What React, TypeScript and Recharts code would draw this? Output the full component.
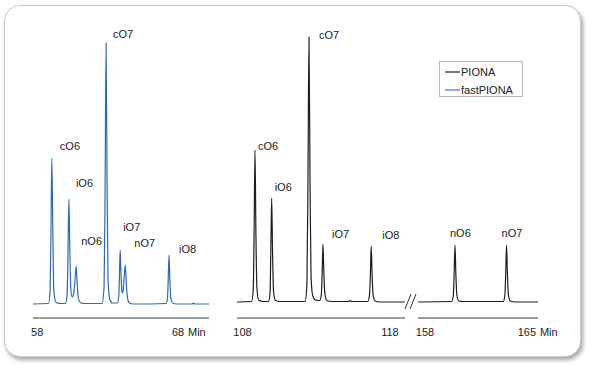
import React from "react";
import { LineChart, Line, XAxis, YAxis, LabelList, Legend } from "recharts";

// fastPIONA trace, 58-68 min window (time in min, detector signal)
const FAST_TRACE: [number, number][] = [
    [57.7, 0], [58.7, 0.5],
    [58.8, 0.5], [58.91, 12], [58.97, 66], [59.04, 146], [59.11, 70], [59.18, 14], [59.32, 2], [59.6, 0.5],
    [60.0, 0.5], [60.12, 9], [60.18, 47], [60.25, 105], [60.32, 50], [60.39, 14], [60.48, 7], [60.58, 10],
    [60.66, 20], [60.77, 38], [60.84, 20], [60.92, 6], [61.05, 1.5], [61.3, 0.5],
    [62.6, 0.5], [62.75, 18], [62.82, 115], [62.89, 261], [62.96, 120], [63.03, 25], [63.15, 5], [63.35, 1],
    [63.7, 1], [63.8, 10], [63.84, 28], [63.89, 54], [63.95, 30], [64.02, 12], [64.08, 11], [64.15, 22],
    [64.26, 39], [64.33, 20], [64.41, 6], [64.55, 1], [64.8, 0],
    [67.15, 0.5], [67.25, 6], [67.3, 23], [67.36, 49], [67.42, 24], [67.49, 6], [67.62, 1], [67.9, 0],
    [69.0, 0], [69.1, 1], [69.2, 0], [70.2, 0],
];
const FAST_PEAKS = ["cO6", "iO6", "nO6", "cO7", "iO7", "nO7", "iO8"];
const FAST_PEAK_TIMES = [59.04, 60.25, 60.77, 62.89, 63.89, 64.26, 67.36];
const FAST_TICKS = [58, 68];

// PIONA trace, 108-118 min window
const PIONA_A_TRACE: [number, number][] = [
    [107.63, 0], [108.6, 0.5],
    [108.62, 0.5], [108.73, 12], [108.79, 70], [108.85, 152], [108.91, 72], [108.98, 14], [109.1, 2], [109.4, 0.5],
    [109.76, 0.5], [109.87, 9], [109.92, 48], [109.98, 104], [110.04, 50], [110.11, 10], [110.24, 1.5], [110.5, 0.5],
    [112.25, 0.5], [112.37, 18], [112.44, 118], [112.51, 265], [112.58, 122], [112.65, 25], [112.77, 6], [112.95, 2],
    [113.25, 1.5], [113.35, 8], [113.4, 27], [113.46, 58], [113.52, 28], [113.59, 8], [113.72, 1.5], [114.0, 0.5],
    [115.2, 0.5], [115.3, 1.5], [115.4, 0.5],
    [116.5, 0.5], [116.61, 7], [116.67, 26], [116.73, 56], [116.79, 27], [116.86, 7], [116.99, 1], [117.3, 0],
    [119.02, 0],
];
const PIONA_A_PEAKS = ["cO6", "iO6", "cO7", "iO7", "iO8"];
const PIONA_A_PEAK_TIMES = [108.85, 109.98, 112.51, 113.46, 116.73];
const PIONA_A_TICKS = [108, 118];

// PIONA trace, 158-165 min window
const PIONA_B_TRACE: [number, number][] = [
    [157.52, 0], [159.8, 0.5],
    [159.84, 0.5], [159.95, 8], [160.0, 27], [160.06, 57], [160.12, 28], [160.19, 7], [160.32, 1], [160.6, 0.5],
    [163.38, 0.5], [163.49, 8], [163.54, 27], [163.6, 57], [163.66, 28], [163.73, 7], [163.86, 1], [164.2, 0],
    [165.76, 0],
];
const PIONA_B_PEAKS = ["nO6", "nO7"];
const PIONA_B_PEAK_TIMES = [160.06, 163.6];
const PIONA_B_TICKS = [158, 165];

const LEGEND_NAMES = ["PIONA", "fastPIONA"];
const LEGEND_COLORS = ["#222222", "#6464e0"];

const BLUE = "#2f6aa8";
const BLACK = "#1e1e1e";
const FONT = "'Liberation Sans', Arial, sans-serif";

// label placement relative to the peak apex
const FAST_LABEL_OFF: Record<string, [number, number]> = {
    cO6: [8, -12], iO6: [7, -16], nO6: [5, -25], cO7: [7, -9], iO7: [3, -23], nO7: [9, -22], iO8: [10, -6],
};
const PIONA_A_LABEL_OFF: Record<string, [number, number]> = {
    cO6: [3, -4], iO6: [3, -11], cO7: [10, -2], iO7: [9, -10], iO8: [11, -11],
};
const PIONA_B_LABEL_OFF: Record<string, [number, number]> = {
    nO6: [-5, -12], nO7: [-5, -12],
};

function buildRows(trace: [number, number][], names: string[], times: number[]) {
    return trace.map(([t, v]) => {
        const i = times.indexOf(t);
        return { t, v, name: i >= 0 ? names[i] : undefined };
    });
}

function peakLabel(offsets: Record<string, [number, number]>) {
    return (props: any) => {
        const { x, y, value } = props;
        if (!value) return null;
        const [dx, dy] = offsets[value] || [4, -8];
        return (
            <text x={x + dx} y={y + dy + 4} fontSize={11} fontFamily={FONT} fill="#222">
                {value}
            </text>
        );
    };
}

function minuteTick(minTick: number | null, minDx: number) {
    return (props: any) => {
        const { x, y, payload } = props;
        return (
            <g>
                <text x={x} y={y} dy={10} textAnchor="middle" fontSize={11} fontFamily={FONT} fill="#222">
                    {payload.value}
                </text>
                {payload.value === minTick && (
                    <text x={x + minDx} y={y} dy={10} fontSize={11} fontFamily={FONT} fill="#222">
                        Min
                    </text>
                )}
            </g>
        );
    };
}

function LegendBox() {
    return (
        <div style={{ width: 84, height: 36, border: "1px solid #b8b8b8", boxSizing: "border-box", background: "#fff", paddingTop: 1 }}>
            {LEGEND_NAMES.map((n, i) => (
                <div key={n} style={{ height: 18, display: "flex", alignItems: "center", fontFamily: FONT, fontSize: 11, color: "#222" }}>
                    <svg width={21} height={18} style={{ flex: "none" }}>
                        <line x1={5} x2={20} y1={9} y2={9} stroke={LEGEND_COLORS[i]} strokeWidth={1.2} />
                    </svg>
                    <span>{n}</span>
                </div>
            ))}
        </div>
    );
}

type PanelProps = {
    left: number;
    width: number;
    marginRight: number;
    rows: any[];
    domain: [number, number];
    yDomain: [number, number];
    ticks: number[];
    color: string;
    offsets: Record<string, [number, number]>;
    minTick: number | null;
    minDx: number;
    legend?: boolean;
};

function Panel(p: PanelProps) {
    return (
        <div style={{ position: "absolute", left: p.left, top: 0 }}>
            <LineChart width={p.width} height={350} data={p.rows} margin={{ top: 30, right: p.marginRight, bottom: 0, left: 12 }}>
                <XAxis
                    dataKey="t"
                    type="number"
                    domain={p.domain}
                    allowDataOverflow
                    ticks={p.ticks}
                    interval={0}
                    height={32}
                    tickLine={false}
                    axisLine={{ stroke: "#7a7a7a", strokeWidth: 1.5 }}
                    tick={minuteTick(p.minTick, p.minDx)}
                />
                <YAxis hide type="number" domain={p.yDomain} allowDataOverflow />
                {p.legend && (
                    <Legend
                        layout="vertical"
                        align="center"
                        verticalAlign="middle"
                        wrapperStyle={{ left: 33, top: 61, width: 84 }}
                        content={() => <LegendBox />}
                    />
                )}
                <Line type="monotone" dataKey="v" stroke={p.color} strokeWidth={1.2} dot={false} isAnimationActive={false}>
                    <LabelList dataKey="name" content={peakLabel(p.offsets)} />
                </Line>
            </LineChart>
        </div>
    );
}

export default function App() {
    const fastRows = buildRows(FAST_TRACE, FAST_PEAKS, FAST_PEAK_TIMES);
    const pionaARows = buildRows(PIONA_A_TRACE, PIONA_A_PEAKS, PIONA_A_PEAK_TIMES);
    const pionaBRows = buildRows(PIONA_B_TRACE, PIONA_B_PEAKS, PIONA_B_PEAK_TIMES);
    return (
        <div style={{ position: "absolute", left: 0, top: 0, width: 593, height: 369, background: "#fff", overflow: "hidden" }}>
            <div
                style={{
                    position: "absolute", left: 4, top: 5, width: 577, height: 352, boxSizing: "border-box",
                    border: "1px solid #c9c9c9", borderRadius: 16, boxShadow: "2px 3px 4px rgba(0,0,0,0.35)", background: "#fff",
                }}
            />
            <Panel left={21} width={200} marginRight={12} rows={fastRows} domain={[57.7, 70.2]} yDomain={[-14, 274]}
                ticks={FAST_TICKS} color={BLUE} offsets={FAST_LABEL_OFF} minTick={68} minDx={10} />
            <Panel left={225} width={192} marginRight={12} rows={pionaARows} domain={[107.63, 119.02]} yDomain={[-16, 272]}
                ticks={PIONA_A_TICKS} color={BLACK} offsets={PIONA_A_LABEL_OFF} minTick={null} minDx={0} />
            <Panel left={406} width={162} marginRight={30} rows={pionaBRows} domain={[157.52, 165.76]} yDomain={[-16, 272]}
                ticks={PIONA_B_TICKS} color={BLACK} offsets={PIONA_B_LABEL_OFF} minTick={165} minDx={13} legend />
            <svg width={593} height={369} style={{ position: "absolute", left: 0, top: 0, pointerEvents: "none" }}>
                <line x1={405} y1={309} x2={411} y2={294} stroke="#333" strokeWidth={1} />
                <line x1={410} y1={309} x2={416} y2={294} stroke="#333" strokeWidth={1} />
            </svg>
        </div>
    );
}
